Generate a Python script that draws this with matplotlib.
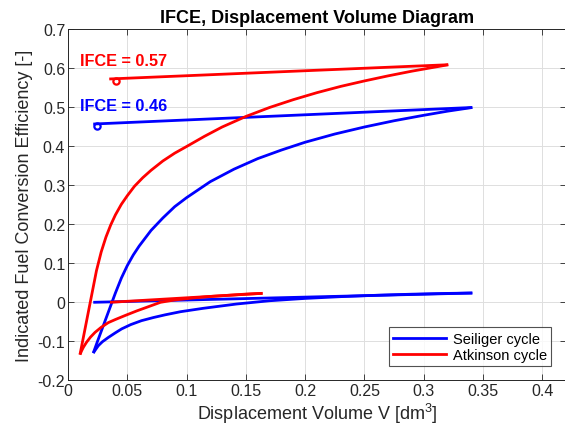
import matplotlib
matplotlib.use("Agg")
import matplotlib.pyplot as plt
from matplotlib.ticker import FuncFormatter

plt.rcParams['font.family'] = ['Liberation Sans', 'DejaVu Sans']
plt.rcParams['axes.unicode_minus'] = False
plt.rcParams['mathtext.default'] = 'regular'

# ---------------- data ----------------
# Seiliger cycle (blue)
seil_intake_V = [0.0213, 0.341]
seil_intake_y = [0.000, 0.0238]
seil_comp_V = [0.341, 0.320, 0.290, 0.260, 0.230, 0.200, 0.170, 0.142, 0.114, 0.095,
               0.082, 0.072, 0.062, 0.053, 0.0453, 0.040, 0.034, 0.029, 0.0256, 0.0235, 0.0213]
seil_comp_y = [0.0238, 0.0228, 0.0208, 0.018, 0.0145, 0.010, 0.004, -0.0044, -0.0154, -0.024,
               -0.032, -0.039, -0.047, -0.057, -0.068, -0.078, -0.090, -0.101, -0.111, -0.120, -0.130]
seil_exp_V = [0.0213, 0.025, 0.030, 0.035, 0.040, 0.045, 0.050, 0.055, 0.060, 0.070, 0.080,
              0.090, 0.100, 0.120, 0.140, 0.160, 0.180, 0.200, 0.225, 0.250, 0.275, 0.300,
              0.320, 0.341]
seil_exp_y = [-0.130, -0.099, -0.058, -0.017, 0.024, 0.062, 0.094, 0.121, 0.144, 0.184, 0.216,
              0.245, 0.268, 0.309, 0.341, 0.368, 0.390, 0.410, 0.431, 0.449, 0.465, 0.479,
              0.4895, 0.499]
seil_exh_V = [0.341, 0.0213]
seil_exh_y = [0.499, 0.4566]
seil_end = (0.0247, 0.4507)

# Atkinson cycle (red)
atk_intake_V = [0.0354, 0.1641]
atk_intake_y = [0.000, 0.023]
atk_comp_V = [0.1641, 0.150, 0.135, 0.120, 0.105, 0.090, 0.078, 0.068, 0.058, 0.048, 0.040,
              0.034, 0.028, 0.0228, 0.019, 0.0157, 0.0130, 0.0115, 0.0101]
atk_comp_y = [0.023, 0.021, 0.018, 0.015, 0.011, 0.006, 0.000, -0.011, -0.022, -0.034, -0.044,
              -0.052, -0.064, -0.077, -0.089, -0.102, -0.115, -0.124, -0.134]
atk_exp_V = [0.0101, 0.0240, 0.0280, 0.0320, 0.0360, 0.0400, 0.0450, 0.0500, 0.0560, 0.0630,
             0.0700, 0.0800, 0.0900, 0.1000, 0.1150, 0.1300, 0.1500, 0.1700, 0.1900, 0.2100,
             0.2300, 0.2500, 0.2700, 0.2900, 0.3207]
atk_exp_y = [-0.134, 0.081, 0.129, 0.167, 0.198, 0.224, 0.251, 0.273, 0.297, 0.319,
             0.338, 0.362, 0.382, 0.399, 0.425, 0.449, 0.476, 0.499, 0.519, 0.537,
             0.553, 0.567, 0.580, 0.592, 0.6085]
atk_exh_V = [0.3207, 0.0348]
atk_exh_y = [0.6085, 0.572]
atk_end = (0.0405, 0.566)

labels = ["Seiliger cycle", "Atkinson cycle"]
ifce_text = ["IFCE = 0.46", "IFCE = 0.57"]

xticks = [0, 0.05, 0.1, 0.15, 0.2, 0.25, 0.3, 0.35, 0.4]
yticks = [-0.2, -0.1, 0, 0.1, 0.2, 0.3, 0.4, 0.5, 0.6, 0.7]

# ---------------- figure ----------------
W, H = 565, 439
fig = plt.figure(figsize=(W / 100, H / 100), dpi=100)
ax = fig.add_axes([68 / W, 1 - 381.4 / H, 498 / W, 351.4 / H])

blue = '#0000ff'
red = '#ff0000'
lw = 2.0

for V, y in [(seil_intake_V, seil_intake_y), (seil_comp_V, seil_comp_y),
             (seil_exp_V, seil_exp_y), (seil_exh_V, seil_exh_y)]:
    ax.plot(V, y, color=blue, lw=lw, solid_capstyle='butt', solid_joinstyle='round')
ax.plot([seil_end[0]], [seil_end[1]], 'o', mfc='none', mec=blue, ms=4.5, mew=1.6)

for V, y in [(atk_intake_V, atk_intake_y), (atk_comp_V, atk_comp_y),
             (atk_exp_V, atk_exp_y), (atk_exh_V, atk_exh_y)]:
    ax.plot(V, y, color=red, lw=lw, solid_capstyle='butt', solid_joinstyle='round')
ax.plot([atk_end[0]], [atk_end[1]], 'o', mfc='none', mec=red, ms=4.5, mew=1.6)

# legend proxies
h1, = ax.plot([], [], color=blue, lw=lw)
h2, = ax.plot([], [], color=red, lw=lw)
leg = ax.legend([h1, h2], labels, loc='lower right', bbox_to_anchor=(0.97, 0.04),
                fontsize=10.5, frameon=True, fancybox=False, handlelength=3.6,
                borderpad=0.3, labelspacing=0.15, handletextpad=0.45, borderaxespad=0)
leg.get_frame().set_edgecolor('#262626')
leg.get_frame().set_linewidth(0.8)

ax.text(0.0101, 0.620, ifce_text[1], color=red, fontsize=11.7, fontweight='bold',
        va='center', ha='left')
ax.text(0.0101, 0.505, ifce_text[0], color=blue, fontsize=11.7, fontweight='bold',
        va='center', ha='left')

ax.set_xlim(0, 0.42)
ax.set_ylim(-0.2, 0.7)
ax.set_xticks(xticks)
ax.set_yticks(yticks)
ax.xaxis.set_major_formatter(FuncFormatter(lambda v, p: '%g' % round(v, 3)))
ax.yaxis.set_major_formatter(FuncFormatter(lambda v, p: '%g' % round(v, 3)))
ax.tick_params(direction='in', length=4, width=0.6, color='#262626', labelsize=11.5,
               labelcolor='#262626', top=True, right=True, pad=2)
ax.grid(True, color='#dedede', lw=0.7)
ax.set_axisbelow(True)
for s in ax.spines.values():
    s.set_color('#262626')
    s.set_linewidth(0.7)

ax.set_xlabel('Displacement Volume V [dm$^3$]', fontsize=13, color='#262626', labelpad=2)
ax.set_ylabel('Indicated Fuel Conversion Efficiency [-]', fontsize=13, color='#262626', labelpad=3)
ax.set_title('IFCE, Displacement Volume Diagram', fontsize=13, fontweight='bold',
             color='#000000', pad=5)

fig.savefig('out.png', dpi=100)
